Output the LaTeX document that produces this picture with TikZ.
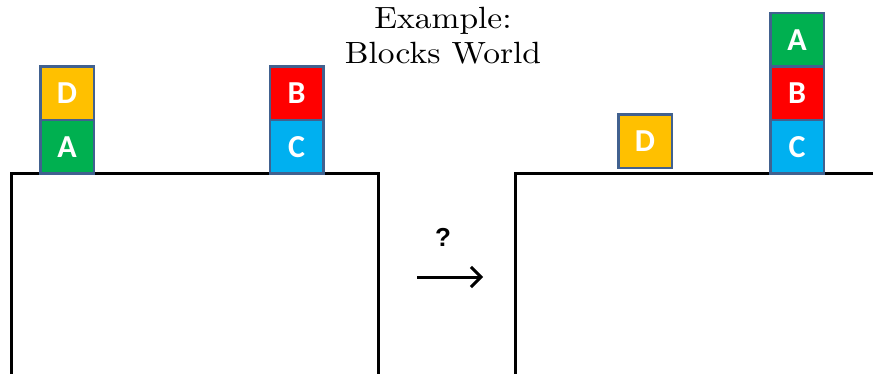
\documentclass[tikz,border=0pt]{standalone}
\usepackage{fontspec}
\usetikzlibrary{arrows.meta}
\newfontfamily\blockfont{Carlito}
\newfontfamily\markfont{Liberation Sans}

\definecolor{blkorange}{HTML}{FFC000}
\definecolor{blkgreen}{HTML}{00B050}
\definecolor{blkred}{HTML}{FF0000}
\definecolor{blkblue}{HTML}{00B0F0}
\definecolor{blkedge}{HTML}{41618F}

\tikzset{
  block/.style={draw=blkedge, line width=2.5pt, minimum width=53.5pt,
    minimum height=53.5pt, inner sep=0pt, text=white,
    font=\blockfont\bfseries\fontsize{32}{32}\selectfont},
  tabletop/.style={draw=black, line width=3pt, line join=miter},
  move/.style={draw=black, line width=3pt,
    -{Straight Barb[length=10pt,width=20pt,line width=3pt]}}
}

\begin{document}
\begin{tikzpicture}[x=1pt, y=-1pt]
  \useasboundingbox (0,0) rectangle (873,374);

  % title, set at text size and enlarged so it keeps the heavier design
  \node[inner sep=0pt] (title) at (443,39)
    {\scalebox{3.35}[3.07]{\fontsize{10}{11.4}\selectfont
      \begin{tabular}{@{}c@{}}Example:\\Blocks World\end{tabular}}};

  % tables
  \draw[tabletop] (11,380) -- (11,173.5) -- (378,173.5) -- (378,380);
  \draw[tabletop] (515,380) -- (515,173.5) -- (880,173.5);

  % initial state
  \node[block, fill=blkorange] (d1) at (67,93.5) {D};
  \node[block, fill=blkgreen]  (a1) at (67,147) {A};
  \node[block, fill=blkred]    (b1) at (296.5,93.5) {B};
  \node[block, fill=blkblue]   (c1) at (296.5,147) {C};

  % goal state
  \node[block, fill=blkorange] (d2) at (645,141.5) {D};
  \node[block, fill=blkgreen]  (a2) at (797,40) {A};
  \node[block, fill=blkred]    (b2) at (797,93.5) {B};
  \node[block, fill=blkblue]   (c2) at (797,147) {C};

  % transition
  \node[font=\markfont\bfseries\fontsize{26}{26}\selectfont] (q) at (443,237) {?};
  \coordinate (from) at (417,277);
  \coordinate (to) at (483,277);
  \draw[move] (from) -- (to);
\end{tikzpicture}
\end{document}
